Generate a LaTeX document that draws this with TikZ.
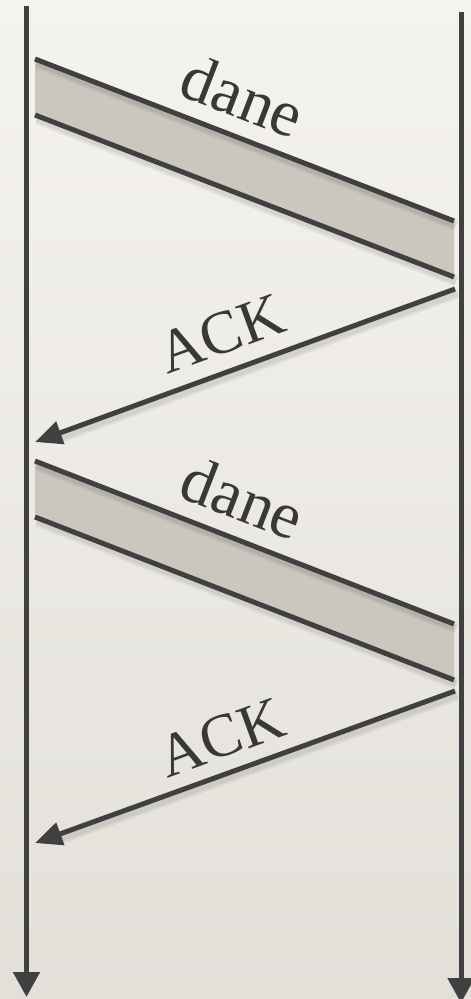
\documentclass[tikz,border=0pt]{standalone}
\usepackage{fontspec}
\setmainfont{Liberation Serif}
\usetikzlibrary{arrows.meta,calc}
\definecolor{ink}{HTML}{404040}
\definecolor{txt}{HTML}{383838}
\definecolor{bandcol}{HTML}{CBC6BE}
\definecolor{papertop}{HTML}{F5F3EE}
\definecolor{paperbot}{HTML}{E3E0DA}
\begin{document}
\begin{tikzpicture}[x=1pt,y=-1pt,
  wire/.style={draw=ink, line width=5pt},
  life/.style={wire, -{Triangle[length=25pt,width=26pt]}},
  msg/.style={wire, -{Triangle[length=27pt,width=23pt]}},
  softshadow/.style={draw=black, draw opacity=0.05, line width=11pt,
                     transform canvas={shift={(2pt,-4pt)}},
                     postaction={draw=black, draw opacity=0.06, line width=7pt}},
  lbl/.style={text=txt, inner sep=0pt, anchor=base},
  danelbl/.style={lbl, font=\fontsize{66}{72}\selectfont},
  acklbl/.style={lbl, font=\fontsize{61}{72}\selectfont}
]
\useasboundingbox (0,0) rectangle (471,999);
\shade[top color=papertop, bottom color=paperbot] (0,0) rectangle (471,999);

% lifelines
\coordinate (Ltop) at (26.5,6);
\coordinate (Lbot) at (26.5,997);
\coordinate (Rtop) at (461,12);
\coordinate (Rbot) at (461,1003);

% first data band
\coordinate (A1) at (35,59);
\coordinate (B1) at (454,221);
\coordinate (C1) at (35,115);
\coordinate (D1) at (454,277);
% first ack
\coordinate (K1s) at (455,289);
\coordinate (K1e) at (35,442);
% second data band
\coordinate (A2) at (35,461);
\coordinate (B2) at (454,624);
\coordinate (C2) at (35,517);
\coordinate (D2) at (454,680);
% second ack
\coordinate (K2s) at (455,691);
\coordinate (K2e) at (35,843);

\draw[life] (Ltop) -- (Lbot);
\draw[life] (Rtop) -- (Rbot);

% bands
\fill[bandcol] (A1) -- (B1) -- (D1) -- (C1) -- cycle;
\fill[bandcol] (A2) -- (B2) -- (D2) -- (C2) -- cycle;
\draw[softshadow] (A1) -- (B1);
\draw[softshadow] (C1) -- (D1);
\draw[softshadow] (A2) -- (B2);
\draw[softshadow] (C2) -- (D2);
\draw[softshadow] (K1s) -- ($(K1e)!20pt!(K1s)$);
\draw[softshadow] (K2s) -- ($(K2e)!20pt!(K2s)$);
\draw[wire] (A1) -- (B1);
\draw[wire] (C1) -- (D1);
\draw[wire] (A2) -- (B2);
\draw[wire] (C2) -- (D2);
\draw[msg] (K1s) -- (K1e);
\draw[msg] (K2s) -- (K2e);

% labels
\node[danelbl, rotate=-21.1] (dane1) at (235,117) {dane};
\node[acklbl, rotate=20] (ack1) at (228,352.5) {ACK};
\node[danelbl, rotate=-21.1] (dane2) at (235,519) {dane};
\node[acklbl, rotate=20] (ack2) at (228,756) {ACK};
\end{tikzpicture}
\end{document}
